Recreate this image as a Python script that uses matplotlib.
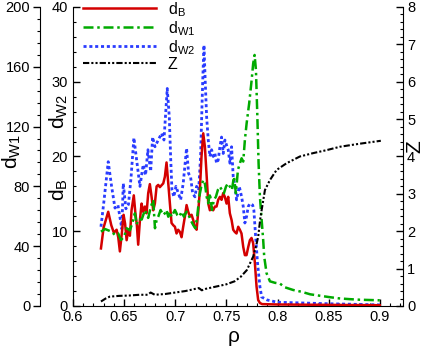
import matplotlib
matplotlib.use('Agg')
import matplotlib.pyplot as plt
from matplotlib.ticker import MultipleLocator, FormatStrFormatter

plt.rcParams['font.family'] = ['Liberation Sans', 'DejaVu Sans']
plt.rcParams['mathtext.fontset'] = 'custom'
plt.rcParams['mathtext.rm'] = 'Liberation Sans'
plt.rcParams['mathtext.it'] = 'Liberation Sans'
plt.rcParams['mathtext.default'] = 'regular'

# d_B (left inner axis, 0-40)
rho_b = [0.6274, 0.6300, 0.6345, 0.6375, 0.6400, 0.6427, 0.6443, 0.6459, 0.6480, 0.6495,
         0.6510, 0.6525, 0.6541, 0.6557, 0.6573, 0.6595, 0.6610, 0.6625, 0.6638, 0.6655,
         0.6671, 0.6687, 0.6704, 0.6720, 0.6736, 0.6752, 0.6769, 0.6785, 0.6801, 0.6818,
         0.6834, 0.6850, 0.6883, 0.6899, 0.6915, 0.6932, 0.6948, 0.6964, 0.6981, 0.6997,
         0.7013, 0.7029, 0.7046, 0.7062, 0.7078, 0.7095, 0.7111, 0.7127, 0.7143, 0.7160,
         0.7176, 0.7192, 0.7209, 0.7225, 0.7241, 0.7257, 0.7274, 0.7290, 0.7306, 0.7323,
         0.7339, 0.7355, 0.7371, 0.7388, 0.7404, 0.7420, 0.7437, 0.7453, 0.7469, 0.7485,
         0.7502, 0.7518, 0.7534, 0.7551, 0.7567, 0.7583, 0.7599, 0.7616, 0.7632, 0.7648,
         0.7665, 0.7681, 0.7697, 0.7714, 0.7730, 0.7746, 0.7762, 0.7779, 0.7795, 0.7811,
         0.7828, 0.7850, 0.8000, 0.8500, 0.9000]
d_b = [7.7, 10.5, 12.6, 10.8, 9.8, 10.2, 9.2, 7.3, 10.0, 12.2,
       11.0, 8.8, 10.2, 9.4, 12.8, 14.8, 12.5, 10.8, 8.2, 11.5,
       13.7, 12.6, 13.3, 12.4, 15.1, 16.3, 14.6, 12.8, 13.7, 16.0,
       16.2, 15.9, 16.4, 17.3, 19.2, 16.4, 13.7, 11.1, 10.8, 10.6,
       9.7, 10.2, 9.9, 9.2, 10.6, 12.0, 13.5, 12.6, 12.0, 12.2,
       11.5, 10.6, 10.2, 12.6, 15.5, 20.0, 23.1, 21.3, 17.7, 13.7,
       12.8, 13.3, 12.8, 13.3, 13.3, 14.2, 14.6, 14.2, 15.1, 14.6,
       13.7, 14.6, 12.4, 11.5, 10.2, 9.9, 9.7, 10.6, 10.2, 9.7,
       7.9, 6.8, 6.8, 7.9, 8.8, 9.1, 8.4, 5.7, 2.6, 0.8,
       0.4, 0.25, 0.2, 0.15, 0.1]

# d_W2 (left inner axis, 0-40)
rho_w2 = [0.6274, 0.6303, 0.6345, 0.6378, 0.6411, 0.6440, 0.6469, 0.6478, 0.6492, 0.6518,
          0.6543, 0.6567, 0.6596, 0.6623, 0.6655, 0.6687, 0.6710, 0.6733, 0.6760, 0.6779,
          0.6802, 0.6834, 0.6867, 0.6890, 0.6922, 0.6942, 0.6955, 0.6968, 0.6987, 0.7007,
          0.7030, 0.7053, 0.7078, 0.7111, 0.7131, 0.7150, 0.7170, 0.7193, 0.7209, 0.7229,
          0.7248, 0.7268, 0.7281, 0.7293, 0.7307, 0.7323, 0.7339, 0.7356, 0.7371, 0.7388,
          0.7404, 0.7420, 0.7437, 0.7453, 0.7469, 0.7486, 0.7502, 0.7518, 0.7535, 0.7551,
          0.7567, 0.7584, 0.7600, 0.7626, 0.7649, 0.7665, 0.7681, 0.7698, 0.7714, 0.7730,
          0.7757, 0.7769, 0.7786, 0.7805, 0.7828, 0.7845, 0.7900, 0.8000, 0.8500, 0.9000]
d_w2 = [10.6, 14.0, 19.3, 16.0, 13.1, 13.5, 11.1, 10.3, 16.4, 13.0,
        13.6, 17.0, 22.5, 19.5, 16.0, 18.9, 17.5, 20.9, 18.0, 22.6,
        21.3, 22.2, 23.1, 22.2, 29.1, 25.3, 20.0, 15.5, 14.6, 16.0,
        15.1, 14.2, 16.4, 21.1, 17.7, 17.3, 15.1, 14.6, 16.0, 15.5,
        20.0, 29.8, 34.9, 30.2, 25.3, 22.2, 20.0, 20.9, 20.0, 20.4,
        19.1, 19.5, 21.3, 22.6, 20.4, 22.2, 21.5, 20.9, 19.1, 21.3,
        17.3, 16.0, 14.2, 16.0, 14.6, 13.3, 11.1, 12.0, 13.3, 13.7,
        13.5, 12.8, 9.3, 5.7, 2.6, 1.2, 0.8, 0.5, 0.3, 0.15]

# d_W1 (outer left axis, 0-200)
rho_w1 = [0.6274, 0.6313, 0.6345, 0.6378, 0.6411, 0.6443, 0.6469, 0.6501, 0.6525, 0.6557,
          0.6580, 0.6606, 0.6623, 0.6638, 0.6672, 0.6704, 0.6736, 0.6762, 0.6785, 0.6802,
          0.6818, 0.6834, 0.6857, 0.6883, 0.6899, 0.6915, 0.6932, 0.6948, 0.6964, 0.6981,
          0.6997, 0.7020, 0.7040, 0.7062, 0.7085, 0.7111, 0.7131, 0.7150, 0.7176, 0.7196,
          0.7215, 0.7235, 0.7254, 0.7274, 0.7290, 0.7307, 0.7323, 0.7339, 0.7359, 0.7378,
          0.7398, 0.7417, 0.7437, 0.7456, 0.7476, 0.7496, 0.7515, 0.7535, 0.7554, 0.7574,
          0.7593, 0.7613, 0.7632, 0.7649, 0.7665, 0.7681, 0.7698, 0.7723, 0.7747, 0.7762,
          0.7776, 0.7789, 0.7802, 0.7815, 0.7828, 0.7845, 0.7860, 0.7870, 0.7893, 0.7926,
          0.7975, 0.8023, 0.8072, 0.8153, 0.8235, 0.8320, 0.8400, 0.8500, 0.8600, 0.8700,
          0.8800, 0.8900, 0.9000]
d_w1 = [49.7, 51.5, 50.6, 49.7, 47.5, 48.5, 44.1, 46.5, 52.0, 50.6,
        55.3, 62.0, 54.6, 58.0, 57.8, 64.2, 58.9, 66.4, 70.9, 52.0,
        57.5, 59.7, 64.2, 60.9, 62.0, 64.2, 59.7, 63.1, 59.7, 62.0,
        64.2, 60.9, 59.7, 63.1, 59.7, 63.1, 60.9, 57.5, 54.2, 52.0,
        59.7, 73.1, 79.8, 84.3, 82.0, 73.1, 68.7, 75.4, 64.2, 70.9,
        73.1, 77.6, 79.8, 77.6, 75.4, 79.8, 82.0, 79.8, 77.6, 86.5,
        75.4, 91.0, 95.4, 98.8, 96.6, 111.0, 122.1, 135.5, 151.0, 162.1,
        167.9, 158.0, 129.0, 95.4, 73.1, 57.5, 44.1, 33.0, 21.9, 16.5,
        15.5, 15.0, 12.5, 10.7, 9.5, 7.8, 7.0, 6.0, 5.1, 4.6,
        4.2, 4.0, 3.8]

# Z (right axis, 0-8)
rho_z = [0.6274, 0.6320, 0.6360, 0.6450, 0.6550, 0.6650, 0.6730, 0.6760, 0.6800, 0.6900,
         0.7000, 0.7100, 0.7150, 0.7230, 0.7260, 0.7300, 0.7400, 0.7500, 0.7580, 0.7640,
         0.7700, 0.7762, 0.7790, 0.7811, 0.7830, 0.7845, 0.7877, 0.7926, 0.7991, 0.8089,
         0.8219, 0.8349, 0.8480, 0.8610, 0.8800, 0.9010]
z = [0.12, 0.20, 0.25, 0.27, 0.28, 0.30, 0.30, 0.36, 0.30, 0.32,
     0.36, 0.40, 0.43, 0.48, 0.42, 0.46, 0.52, 0.58, 0.66, 0.78,
     0.96, 1.32, 1.60, 1.85, 2.30, 2.57, 3.10, 3.37, 3.64, 3.82,
     4.00, 4.09, 4.17, 4.26, 4.34, 4.42]

fig = plt.figure(figsize=(4.29, 3.47), dpi=100)
ax = fig.add_axes([0.170, 0.1182, 0.7692, 0.8617])
axw = ax.twinx()
axz = ax.twinx()

lb, = ax.plot(rho_b, d_b, color='#d40000', lw=1.8, zorder=3)
lw2, = ax.plot(rho_w2, d_w2, color='#2a3cff', lw=2.0, ls=(0, (1.1, 1.0)), zorder=2)
lw1, = axw.plot(rho_w1, d_w1, color='#00aa00', lw=1.8, ls=(0, (4, 1.5, 1, 1.5)))
lz, = axz.plot(rho_z, z, color='black', lw=1.5, ls=(0, (3, 1, 1, 1, 1, 1)))

ax.set_xlim(0.6, 0.9226)
ax.set_ylim(0, 40)
axw.set_ylim(0, 200)
axz.set_ylim(0, 8)

for a in (ax, axw, axz):
    a.spines['top'].set_visible(False)

ax.spines['right'].set_visible(False)
ax.xaxis.set_major_locator(MultipleLocator(0.05))
ax.xaxis.set_minor_locator(MultipleLocator(0.01))
ax.xaxis.set_major_formatter(FormatStrFormatter('%g'))
ax.yaxis.set_major_locator(MultipleLocator(10))
ax.yaxis.set_minor_locator(MultipleLocator(2))
ax.tick_params(which='both', direction='in', labelsize=10.5, top=False, right=False)
ax.tick_params(which='major', length=5, width=1)
ax.tick_params(which='minor', length=2.5, width=0.8)
ax.tick_params(axis='x', pad=3)

axw.spines['right'].set_visible(False)
axw.spines['bottom'].set_visible(False)
axw.spines['left'].set_visible(True)
axw.spines['left'].set_position(('axes', -0.1))
axw.yaxis.tick_left()
axw.yaxis.set_major_locator(MultipleLocator(40))
axw.yaxis.set_minor_locator(MultipleLocator(8))
axw.tick_params(which='both', direction='out', labelsize=10.5, pad=2)
axw.tick_params(which='major', length=5, width=1)
axw.tick_params(which='minor', length=2.5, width=0.8)

axz.spines['left'].set_visible(False)
axz.spines['bottom'].set_visible(False)
axz.yaxis.set_major_locator(MultipleLocator(1))
axz.yaxis.set_minor_locator(MultipleLocator(0.2))
axz.tick_params(which='both', direction='in', labelsize=10.5, pad=3)
axz.tick_params(which='major', length=5, width=1)
axz.tick_params(which='minor', length=2.5, width=0.8)

fig.text(12 / 429, 1 - 152 / 347, r'$d_{W1}$', rotation=90, ha='center', va='center', fontsize=15)
fig.text(59 / 429, 1 - 112 / 347, r'$d_{W2}$', rotation=90, ha='center', va='center', fontsize=15)
fig.text(59 / 429, 1 - 190 / 347, r'$d_B$', rotation=90, ha='center', va='center', fontsize=15)
fig.text(415 / 429, 1 - 147 / 347, 'Z', rotation=90, ha='center', va='center', fontsize=15)
fig.text(234 / 429, 1 - 336 / 347, 'ρ', ha='center', va='center', fontsize=15)

fig.legend([lb, lw1, lw2, lz], [r'$d_B$', r'$d_{W1}$', r'$d_{W2}$', 'Z'],
           loc='upper left', bbox_to_anchor=(83 / 429, 1.0), frameon=False,
           fontsize=11.5, handlelength=4.6, handletextpad=0.7, labelspacing=0.02,
           borderpad=0, borderaxespad=0)

fig.savefig('out.png', dpi=100)
